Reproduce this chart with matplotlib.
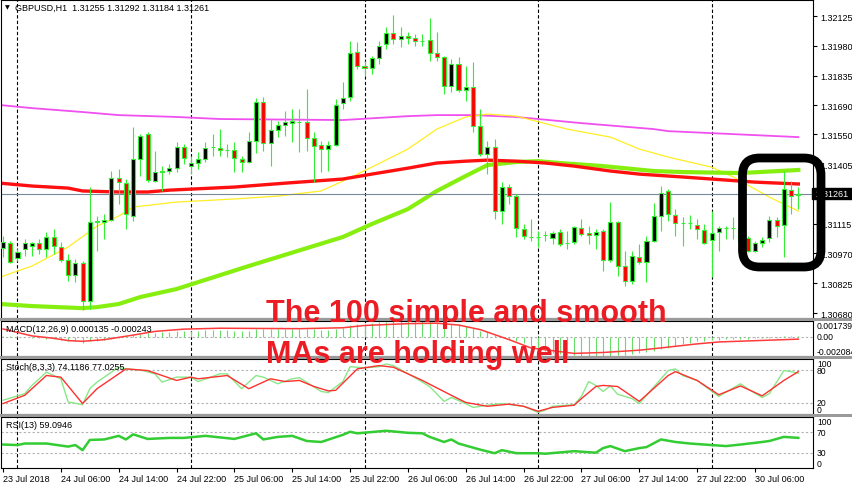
import matplotlib
matplotlib.use('Agg')
import matplotlib.pyplot as plt
from matplotlib.patches import Rectangle, FancyBboxPatch
import matplotlib.transforms as mtransforms

plt.rcParams['font.family'] = ['Liberation Sans', 'DejaVu Sans']

# GBPUSD H1, 23 Jul 2018 22:00 -> 30 Jul 2018 12:00
opens = [1.30996, 1.31021, 1.30948, 1.30991, 1.31006, 1.31021, 1.30991, 1.31050, 1.31001, 1.30938,
         1.30865, 1.30923, 1.30738, 1.31123, 1.31123, 1.31132, 1.31337, 1.31312, 1.31152, 1.31429,
         1.31551, 1.31322, 1.31368, 1.31371, 1.31385, 1.31488, 1.31395, 1.31410, 1.31429, 1.31486,
         1.31483, 1.31474, 1.31473, 1.31429, 1.31415, 1.31517, 1.31707, 1.31507, 1.31570, 1.31595,
         1.31604, 1.31611, 1.31609, 1.31531, 1.31497, 1.31478, 1.31497, 1.31702, 1.31731, 1.31950,
         1.31882, 1.31872, 1.31921, 1.31989, 1.32042, 1.32013, 1.32028, 1.32018, 1.32005, 1.32008,
         1.31945, 1.31925, 1.31784, 1.31894, 1.31765, 1.31779, 1.31590, 1.31454, 1.31488, 1.31176,
         1.31293, 1.31249, 1.31089, 1.31052, 1.31049, 1.31058, 1.31045, 1.31074, 1.31020, 1.31025,
         1.31094, 1.31069, 1.31059, 1.31079, 1.30938, 1.31123, 1.30909, 1.30836, 1.30952, 1.30928,
         1.31030, 1.31152, 1.31274, 1.31157, 1.31120, 1.31117, 1.31108, 1.31084, 1.31035, 1.31074,
         1.31093, 1.31095, 1.31093, 1.31045, 1.30982, 1.31021, 1.31045, 1.31132, 1.31108, 1.31278,
         1.31255]
highs = [1.31055, 1.31030, 1.30991, 1.31040, 1.31025, 1.31040, 1.31074, 1.31089, 1.31025, 1.30967,
         1.30943, 1.30933, 1.31293, 1.31152, 1.31162, 1.31371, 1.31381, 1.31332, 1.31585, 1.31551,
         1.31561, 1.31468, 1.31395, 1.31405, 1.31512, 1.31502, 1.31444, 1.31463, 1.31512, 1.31551,
         1.31575, 1.31502, 1.31512, 1.31444, 1.31561, 1.31726, 1.31731, 1.31624, 1.31614, 1.31663,
         1.31672, 1.31672, 1.31770, 1.31561, 1.31517, 1.31517, 1.31721, 1.31804, 1.32003, 1.31998,
         1.31906, 1.31930, 1.32003, 1.32071, 1.32130, 1.32071, 1.32047, 1.32037, 1.32037, 1.32115,
         1.32047, 1.31930, 1.31916, 1.31925, 1.31882, 1.31901, 1.31672, 1.31517, 1.31526, 1.31317,
         1.31308, 1.31259, 1.31113, 1.31137, 1.31079, 1.31079, 1.31079, 1.31089, 1.31079, 1.31103,
         1.31137, 1.31103, 1.31089, 1.31089, 1.31220, 1.31128, 1.30982, 1.30982, 1.31016, 1.31055,
         1.31215, 1.31298, 1.31283, 1.31186, 1.31147, 1.31157, 1.31137, 1.31113, 1.31176, 1.31103,
         1.31103, 1.31147, 1.31110, 1.31055, 1.31030, 1.31050, 1.31152, 1.31147, 1.31371, 1.31322,
         1.31292]
lows = [1.30952, 1.30923, 1.30933, 1.30957, 1.30957, 1.30967, 1.30952, 1.30967, 1.30928, 1.30836,
        1.30831, 1.30695, 1.30700, 1.30982, 1.31040, 1.31128, 1.31210, 1.31089, 1.31128, 1.31346,
        1.31317, 1.31317, 1.31274, 1.31356, 1.31366, 1.31405, 1.31356, 1.31381, 1.31415, 1.31444,
        1.31444, 1.31439, 1.31366, 1.31366, 1.31410, 1.31458, 1.31468, 1.31395, 1.31536, 1.31541,
        1.31512, 1.31463, 1.31468, 1.31317, 1.31366, 1.31371, 1.31492, 1.31672, 1.31711, 1.31867,
        1.31833, 1.31843, 1.31894, 1.31964, 1.31989, 1.31974, 1.31989, 1.31979, 1.31979, 1.31906,
        1.31906, 1.31745, 1.31755, 1.31755, 1.31711, 1.31561, 1.31444, 1.31356, 1.31137, 1.31113,
        1.31210, 1.31050, 1.31040, 1.31030, 1.31001, 1.31030, 1.31016, 1.31006, 1.30991, 1.31016,
        1.31055, 1.31016, 1.30991, 1.30884, 1.30928, 1.30860, 1.30811, 1.30821, 1.30918, 1.30831,
        1.31025, 1.31079, 1.31128, 1.31055, 1.31006, 1.31089, 1.31040, 1.31016, 1.30855, 1.30982,
        1.31040, 1.31040, 1.31000, 1.30977, 1.30977, 1.31001, 1.31025, 1.31050, 1.30952, 1.31162,
        1.31184]
closes = [1.31025, 1.30928, 1.30977, 1.31021, 1.31021, 1.30991, 1.31050, 1.31006, 1.30938, 1.30865,
          1.30923, 1.30738, 1.31123, 1.31128, 1.31132, 1.31337, 1.31317, 1.31162, 1.31429, 1.31541,
          1.31327, 1.31366, 1.31371, 1.31385, 1.31488, 1.31434, 1.31410, 1.31429, 1.31483, 1.31489,
          1.31473, 1.31471, 1.31434, 1.31415, 1.31517, 1.31707, 1.31507, 1.31570, 1.31595, 1.31609,
          1.31614, 1.31608, 1.31531, 1.31492, 1.31478, 1.31497, 1.31692, 1.31726, 1.31945, 1.31882,
          1.31872, 1.31921, 1.31979, 1.32042, 1.32013, 1.32028, 1.32018, 1.32003, 1.32002, 1.31945,
          1.31925, 1.31784, 1.31894, 1.31765, 1.31779, 1.31590, 1.31454, 1.31488, 1.31176, 1.31293,
          1.31249, 1.31094, 1.31055, 1.31049, 1.31051, 1.31060, 1.31069, 1.31016, 1.31022, 1.31098,
          1.31064, 1.31059, 1.31074, 1.30938, 1.31123, 1.30909, 1.30836, 1.30957, 1.30928, 1.31030,
          1.31152, 1.31264, 1.31162, 1.31118, 1.31117, 1.31119, 1.31089, 1.31021, 1.31069, 1.31094,
          1.31095, 1.31093, 1.31030, 1.30982, 1.31021, 1.31035, 1.31132, 1.31103, 1.31283, 1.31249,
          1.31261]

# moving averages, read at a few bars
pink_idx = [-0.4, 4, 11, 16, 24, 30, 47, 56, 60, 65, 71, 80, 90, 92, 110]
pink_ma = [1.31692, 1.31677, 1.31658, 1.31643, 1.31634, 1.31624, 1.31619, 1.31638, 1.31643, 1.31643,
           1.31634, 1.31604, 1.31575, 1.31565, 1.31536]
red_idx = [-0.4, 4, 9, 11, 16, 20, 23, 32, 39, 47, 51, 56, 60, 64, 67, 71, 75, 79, 84, 88, 94, 98, 104, 110]
red_ma = [1.31312, 1.31298, 1.31288, 1.31274, 1.31269, 1.31269, 1.31278, 1.31293, 1.31312, 1.31332,
          1.31356, 1.31385, 1.31410, 1.31419, 1.31424, 1.31419, 1.31410, 1.31395, 1.31371, 1.31356,
          1.31342, 1.31332, 1.31317, 1.31308]
green_idx = [-0.4, 4, 11, 13, 16, 19, 24, 34, 47, 51, 56, 60, 64, 67, 71, 74, 77, 83, 90, 94, 102, 110]
green_ma = [1.30724, 1.30714, 1.30704, 1.30709, 1.30724, 1.30758, 1.30797, 1.30909, 1.31050, 1.31113,
            1.31186, 1.31274, 1.31347, 1.31400, 1.31415, 1.31419, 1.31410, 1.31395, 1.31371, 1.31366,
            1.31361, 1.31376]
yellow_idx = [-0.4, 4, 9, 13, 16, 18, 24, 32, 38, 44, 47, 51, 56, 60, 64, 67, 71, 78, 84, 88, 92, 98,
              101, 106, 110]
yellow_ma = [1.30855, 1.30909, 1.31001, 1.31103, 1.31152, 1.31196, 1.31220, 1.31235, 1.31249, 1.31274,
             1.31322, 1.31390, 1.31478, 1.31575, 1.31634, 1.31648, 1.31638, 1.31575, 1.31536, 1.31478,
             1.31439, 1.31390, 1.31342, 1.31244, 1.31176]

# MACD(12,26,9)
macd_hist = [0.00014, 0.00007, 0.00007, 0.0, -0.00007, -0.00014, -0.00021, -0.00028, -0.00035, -0.00042,
             -0.00049, -0.00063, -0.00049, -0.00042, -0.00035, -0.00021, -0.00007,
             0.00007, 0.00021, 0.00035, 0.00042, 0.00042, 0.00049, 0.00056, 0.00063, 0.00070, 0.00070,
             0.00070, 0.00076, 0.00076, 0.00076, 0.00076, 0.00070, 0.00070, 0.00070, 0.00083, 0.00083,
             0.00083, 0.00083, 0.00090, 0.00090, 0.00090, 0.00090, 0.00083, 0.00076, 0.00076, 0.00083,
             0.00097, 0.00125, 0.00139, 0.00146, 0.00153, 0.00160, 0.00167, 0.00174, 0.00174, 0.00174,
             0.00174, 0.00174, 0.00174, 0.00167, 0.00153, 0.00146, 0.00132, 0.00118, 0.00097, 0.00070,
             0.00049, 0.00021, 0.0,
             -0.00021, -0.00042, -0.00070, -0.00097, -0.00125, -0.00153, -0.00174, -0.00188, -0.00195,
             -0.00202, -0.00208, -0.00208, -0.00208, -0.00208, -0.00208, -0.00202, -0.00195, -0.00188,
             -0.00181, -0.00167, -0.00153, -0.00132, -0.00118, -0.00097, -0.00076, -0.00063, -0.00049,
             -0.00042, -0.00035, -0.00035, -0.00028, -0.00028, -0.00021, -0.00021, -0.00014, -0.00014,
             -0.00007, -0.00007, 0.00007, 0.00014, 0.000135]
macd_sig_idx = [0, 4, 7, 9, 11, 14, 18, 21, 25, 30, 41, 47, 50, 56, 60, 63, 66, 70, 73, 79, 83, 88, 91,
                96, 99, 103, 110]
macd_sig = [0.00087, 0.00011, -0.00015, -0.00040, -0.00048, -0.00030, 0.00020, 0.00060, 0.00085, 0.00095,
            0.00090, 0.00100, 0.00125, 0.00145, 0.00150, 0.00130, 0.00080, -0.00030, -0.00120, -0.00180,
            -0.00170, -0.00145, -0.00120, -0.00076, -0.00055, -0.00044, -0.000243]

# Stochastic(8,3,3)
stoch_idx = [0, 2, 3, 4, 6, 8, 9, 11, 12, 13, 16, 17, 19, 21, 22, 24, 26, 27, 30, 31, 33, 35, 36, 38, 40,
             41, 44, 45, 47, 48, 50, 52, 53, 54, 57, 59, 61, 62, 64, 65, 67, 69, 72, 74, 75, 76, 79, 80,
             81, 82, 83, 84, 85, 87, 88, 89, 92, 93, 94, 96, 99, 102, 103, 105, 106, 108, 109, 110]
stoch_main = [25, 33, 37, 52, 76, 64, 22, 17, 46, 58, 85, 82, 80, 73, 58, 67, 67, 59, 73, 73, 46, 70, 67,
              55, 64, 66, 41, 39, 59, 86, 84, 86, 91, 88, 66, 50, 23, 30, 19, 12, 16, 19, 14, 3, 7, 14,
              17, 32, 59, 52, 41, 51, 36, 28, 19, 34, 79, 82, 70, 61, 32, 55, 46, 30, 37, 79, 77, 74.1186]
stoch_sig_idx = [0, 3, 6, 8, 11, 13, 17, 20, 24, 26, 27, 31, 34, 37, 39, 41, 43, 45, 46, 49, 52, 54, 58,
                 62, 64, 67, 70, 72, 74, 76, 79, 80, 82, 83, 85, 86, 88, 92, 93, 96, 99, 102, 105, 108, 110]
stoch_sig = [19, 34, 70, 67, 19, 46, 82, 79, 61, 67, 64, 70, 46, 64, 59, 61, 50, 42, 43, 82, 88, 85, 61,
             34, 21, 14, 18, 14, 5, 12, 16, 28, 50, 52, 50, 41, 23, 70, 77, 61, 35, 51, 33, 61, 77.0255]

# RSI(13)
rsi_idx = [0, 2, 3, 6, 9, 10, 11, 12, 14, 16, 17, 18, 20, 23, 25, 28, 32, 35, 36, 38, 40, 42, 44, 47, 48,
           49, 53, 56, 58, 59, 61, 62, 63, 66, 68, 69, 71, 74, 75, 79, 82, 83, 84, 86, 88, 89, 91, 93,
           95, 98, 100, 102, 105, 106, 108, 110]
rsi_vals = [46, 45, 48, 48, 42, 45, 35, 55, 56, 63, 56, 66, 57, 59, 59, 63, 57, 68, 56, 61, 63, 53, 51,
            65, 71, 68, 73, 69, 68, 61, 51, 56, 48, 36, 29, 35, 29, 29, 28, 33, 30, 39, 43, 33, 39, 41,
            56, 51, 48, 45, 43, 46, 51, 53, 61, 59.0946]

main_ticks = [1.30680, 1.30825, 1.30970, 1.31115, 1.31405, 1.31550, 1.31690, 1.31835, 1.31980, 1.32125]
time_idx = [0, 8, 16, 24, 32, 40, 48, 56, 64, 72, 80, 88, 96, 104]
time_labels = ['23 Jul 2018', '24 Jul 06:00', '24 Jul 14:00', '24 Jul 22:00', '25 Jul 06:00',
               '25 Jul 14:00', '25 Jul 22:00', '26 Jul 06:00', '26 Jul 14:00', '26 Jul 22:00',
               '27 Jul 06:00', '27 Jul 14:00', '27 Jul 22:00', '30 Jul 06:00']
day_starts = [2, 26, 50, 74, 98]

W, H = 852, 485
FS = 6.5
fig = plt.figure(figsize=(W / 100, H / 100), dpi=100)
fig.patch.set_facecolor('white')


def pane(top, bottom):
    ax = fig.add_axes([1 / W, (H - bottom) / H, 812 / W, (bottom - top) / H])
    ax.set_xlim(-0.28, 112.03)
    ax.set_xticks([])
    ax.set_yticks([])
    for s in ax.spines.values():
        s.set_color('black')
        s.set_linewidth(0.8)
    for d in day_starts:
        ax.axvline(d, color='black', lw=0.8, ls=(0, (3, 2)), zorder=1)
    return ax


def right_label(ax, y, txt, va='center'):
    tr = mtransforms.blended_transform_factory(ax.transAxes, ax.transData)
    tr = tr + mtransforms.ScaledTranslation(4 / 100, 0, fig.dpi_scale_trans)
    ax.text(1.0, y, txt, transform=tr, va=va, ha='left', fontsize=6.2, clip_on=False)


# splitters between panes
for top in [319, 357, 415]:
    fig.patches.append(Rectangle((0, (H - top - 3) / H), 1, 3 / H, transform=fig.transFigure,
                                 facecolor='#9a9a9a', edgecolor='none', zorder=0))

# ---- price pane
ax = pane(1, 319)
ax.set_ylim(1.30656, 1.32203)
ax.plot(pink_idx, pink_ma, color='#f050f0', lw=1.3, zorder=2)
ax.plot(yellow_idx, yellow_ma, color='#ffee22', lw=0.9, zorder=2)
ax.plot(green_idx, green_ma, color='#86ef10', lw=3.0, zorder=2)
ax.plot(red_idx, red_ma, color='#ff1010', lw=2.4, zorder=2)
ax.axhline(closes[-1], color='#778899', lw=0.8, zorder=2)

n = len(closes)
ax.vlines(range(n), lows, highs, color='#33ee33', lw=0.8, zorder=3)
for i in range(n):
    o, c = opens[i], closes[i]
    face = 'black' if c > o else 'red'
    lo = min(o, c)
    ax.add_patch(Rectangle((i - 0.28, lo), 0.56, abs(c - o), facecolor=face,
                           edgecolor='#33ee33', lw=0.8, zorder=4))

ax.yaxis.tick_right()
ax.set_yticks(main_ticks)
ax.set_yticklabels(['%.5f' % v for v in main_ticks])
ax.tick_params(axis='y', direction='out', length=3, width=0.8, labelsize=FS, pad=2)
tr = mtransforms.blended_transform_factory(ax.transAxes, ax.transData)
ax.text(1.0, closes[-1], ' %.5f ' % closes[-1], transform=tr, va='center', ha='left', fontsize=FS,
        color='white', clip_on=False, zorder=10,
        bbox=dict(boxstyle='square,pad=0.15', facecolor='black', edgecolor='black'))

fig.text(5 / W, 1 - 8 / H, '\u25bc', fontsize=4.5, va='center', family='DejaVu Sans')
fig.text(15 / W, 1 - 8 / H, 'GBPUSD,H1  %.5f %.5f %.5f %.5f' % (opens[-1], highs[-1], lows[-1], closes[-1]),
         fontsize=FS, va='center')

# ---- MACD pane
axm = pane(322, 357)
axm.set_ylim(-0.002084, 0.001739)
axm.axhline(0, color='#b0b0b0', lw=0.8, ls=(0, (2, 2)))
axm.vlines(range(n), 0, macd_hist, color='#66dd66', lw=0.8)
axm.plot(macd_sig_idx, macd_sig, color='#ff3b3b', lw=1.1)
right_label(axm, 0.001739, '0.001739', va='top')
right_label(axm, 0.0, '0.00')
right_label(axm, -0.002084, '-0.002084', va='bottom')
fig.text(6 / W, 1 - 329 / H, 'MACD(12,26,9) 0.000135 -0.000243', fontsize=FS, va='center')

# ---- Stochastic pane
axs = pane(360, 415)
axs.set_ylim(0, 100)
for lv in [80, 20]:
    axs.axhline(lv, color='#b0b0b0', lw=0.8, ls=(0, (2, 2)))
axs.plot(stoch_idx, stoch_main, color='#88e888', lw=1.0)
axs.plot(stoch_sig_idx, stoch_sig, color='#ff3030', lw=1.0)
right_label(axs, 100, '100', va='top')
right_label(axs, 80, '80')
right_label(axs, 20, '20')
right_label(axs, 0, '0', va='bottom')
fig.text(6 / W, 1 - 368 / H, 'Stoch(8,3,3) 74.1186 77.0255', fontsize=FS, va='center')

# ---- RSI pane
axr = pane(418, 469)
axr.set_ylim(0, 100)
for lv in [70, 30]:
    axr.axhline(lv, color='#b0b0b0', lw=0.8, ls=(0, (2, 2)))
axr.plot(rsi_idx, rsi_vals, color='#33cc33', lw=1.8)
right_label(axr, 100, '100', va='top')
right_label(axr, 70, '70')
right_label(axr, 30, '30')
right_label(axr, 0, '0', va='bottom')
fig.text(6 / W, 1 - 426 / H, 'RSI(13) 59.0946', fontsize=FS, va='center')

axr.set_xticks(time_idx)
axr.set_xticklabels(time_labels)
axr.tick_params(axis='x', direction='out', length=3, width=0.8, labelsize=FS, pad=1)
for lab in axr.get_xticklabels():
    lab.set_ha('left')

# ---- annotation
fig.text(266 / W, 1 - 322 / H, 'The 100 simple and smooth', fontsize=22, weight='bold',
         color='#ec1c24', va='baseline', zorder=20)
fig.text(266 / W, 1 - 363 / H, 'MAs are holding well', fontsize=22, weight='bold',
         color='#ec1c24', va='baseline', zorder=20)
box = FancyBboxPatch((7.425, (H - 268) / 100), 0.785, 1.09,
                     boxstyle='round,pad=0,rounding_size=0.17', transform=fig.dpi_scale_trans,
                     fill=False, edgecolor='black', lw=6.3, zorder=20)
fig.add_artist(box)

fig.savefig('out.png', dpi=100)
